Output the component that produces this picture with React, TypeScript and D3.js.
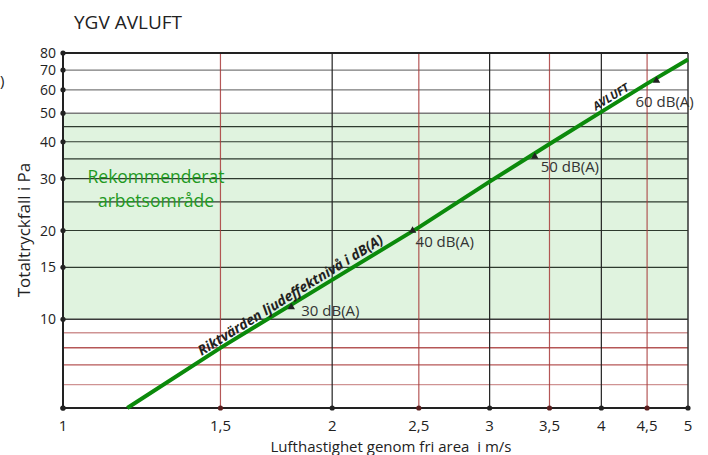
import React, { useRef, useEffect } from 'react';
import * as d3 from 'd3';

// Lufthastighet (m/s) vs Totaltryckfall (Pa)
const velocity = [1.18, 1.5, 2, 2.5, 3, 3.5, 4, 4.5, 5];
const pressure = [5, 8, 13.6, 20.5, 29.3, 39.3, 50.5, 63, 76];

// sound level markers along the line
const dbLabels = ['30 dB(A)', '40 dB(A)', '50 dB(A)', '60 dB(A)'];
const dbVelocity = [1.8, 2.46, 3.37, 4.61];
const dbPressure = [11, 20, 35.6, 64.5];

const xTicks = [1, 1.5, 2, 2.5, 3, 3.5, 4, 4.5, 5];
const xTickLabels = ['1', '1,5', '2', '2,5', '3', '3,5', '4', '4,5', '5'];
const redVerticals = [1.5, 2.5, 3.5, 4.5];
const yLabelled = [80, 70, 60, 50, 40, 30, 20, 15, 10];
const yGreenLines = [45, 40, 35, 30, 25, 20, 15];
const yGreyLines = [70, 60, 50];
const yRedLines = [9, 8, 7, 6];
const zoneRange = [10, 50];

const FONT = '"Open Sans", "Noto Sans", sans-serif';

function App() {
  const ref = useRef<SVGSVGElement>(null);

  useEffect(() => {
    if (!ref.current) return;
    const svg = d3.select(ref.current);
    svg.selectAll('*').remove();

    const left = 63, right = 688, top = 53, bottom = 408;
    const x = d3.scaleLog().domain([1, 5]).range([left, right]);
    const y = d3.scaleLog().domain([5, 80]).range([bottom, top]);

    // recommended zone
    svg.append('rect')
      .attr('x', left).attr('width', right - left)
      .attr('y', y(zoneRange[1])).attr('height', y(zoneRange[0]) - y(zoneRange[1]))
      .attr('fill', '#e0f3df');

    // horizontal grid
    svg.append('g').selectAll('line').data(yRedLines).join('line')
      .attr('x1', left).attr('x2', right)
      .attr('y1', d => y(d)).attr('y2', d => y(d))
      .attr('stroke', '#a83a3a')
      .attr('stroke-opacity', d => (d === 9 || d === 6) ? 0.55 : 0.85)
      .attr('stroke-width', 1.4);
    svg.append('g').selectAll('line').data(yGreyLines).join('line')
      .attr('x1', left).attr('x2', right)
      .attr('y1', d => y(d)).attr('y2', d => y(d))
      .attr('stroke', '#7a7a7a').attr('stroke-width', 1.4);
    svg.append('g').selectAll('line').data(yGreenLines).join('line')
      .attr('x1', left).attr('x2', right)
      .attr('y1', d => y(d)).attr('y2', d => y(d))
      .attr('stroke', '#2e3a2e').attr('stroke-width', 1.2);
    svg.append('line')
      .attr('x1', left).attr('x2', right)
      .attr('y1', y(10)).attr('y2', y(10))
      .attr('stroke', '#3a3a3a').attr('stroke-width', 1.3);

    // vertical grid
    svg.append('g').selectAll('line').data(xTicks.filter(d => d > 1 && d < 5)).join('line')
      .attr('x1', d => x(d)).attr('x2', d => x(d))
      .attr('y1', top).attr('y2', bottom)
      .attr('stroke', d => redVerticals.includes(d) ? '#a83a3a' : '#222')
      .attr('stroke-opacity', d => redVerticals.includes(d) ? 0.85 : 1)
      .attr('stroke-width', 1.2);

    // frame
    svg.append('line').attr('x1', left).attr('x2', right).attr('y1', top).attr('y2', top)
      .attr('stroke', '#222').attr('stroke-width', 2);
    svg.append('line').attr('x1', right).attr('x2', right).attr('y1', top).attr('y2', bottom)
      .attr('stroke', '#333').attr('stroke-width', 1.5);
    svg.append('line').attr('x1', left).attr('x2', right).attr('y1', bottom).attr('y2', bottom)
      .attr('stroke', '#222').attr('stroke-width', 2);
    svg.append('line').attr('x1', left).attr('x2', left).attr('y1', top).attr('y2', bottom)
      .attr('stroke', '#222').attr('stroke-width', 2);

    // tick dots and labels
    svg.append('g').selectAll('circle').data(yLabelled.concat([5])).join('circle')
      .attr('cx', left).attr('cy', d => y(d)).attr('r', 2.6).attr('fill', '#222');
    svg.append('g').selectAll('text').data(yLabelled).join('text')
      .attr('x', left - 7).attr('y', d => y(d)).attr('dy', '0.36em')
      .attr('text-anchor', 'end').attr('font-family', FONT).attr('font-size', 14)
      .attr('fill', '#222').text(d => String(d));
    svg.append('g').selectAll('circle').data(xTicks).join('circle')
      .attr('cx', d => x(d)).attr('cy', bottom).attr('r', 2.6)
      .attr('fill', d => redVerticals.includes(d) ? '#5a1f1f' : '#222');
    svg.append('g').selectAll('text').data(xTicks).join('text')
      .attr('x', d => x(d)).attr('y', 431)
      .attr('text-anchor', 'middle').attr('font-family', FONT).attr('font-size', 15)
      .attr('fill', '#222').text((d, i) => xTickLabels[i]);

    // main line
    const pts = velocity.map((v, i) => [v, pressure[i]] as [number, number]);
    svg.append('path')
      .datum(pts)
      .attr('d', d3.line<[number, number]>().x(d => x(d[0])).y(d => y(d[1])))
      .attr('fill', 'none').attr('stroke', '#0b8a0b').attr('stroke-width', 4);

    const x0 = x(velocity[0]), y0 = y(pressure[0]);
    const x1 = x(velocity[velocity.length - 1]), y1 = y(pressure[pressure.length - 1]);
    const angle = Math.atan2(y1 - y0, x1 - x0) * 180 / Math.PI;
    const onLine = (v: number) => {
      const px = x(v);
      return [px, y0 + (y1 - y0) * (px - x0) / (x1 - x0)];
    };
    const alongText = (v: number, txt: string, size: number) => {
      const [px, py] = onLine(v);
      svg.append('text')
        .attr('transform', `translate(${px},${py}) rotate(${angle})`)
        .attr('y', -5)
        .attr('text-anchor', 'middle').attr('font-family', FONT)
        .attr('font-size', size).attr('font-weight', 'bold').attr('font-style', 'italic')
        .attr('fill', '#222').text(txt);
    };
    alongText(1.82, 'Riktvärden ljudeffektnivå i dB(A)', 14);
    alongText(4.15, 'AVLUFT', 11.5);

    // dB markers
    const dx = [10, 3, 6, -21];
    const dy = [9, 16, 15, 26];
    const markers = svg.append('g').selectAll('g').data(dbLabels).join('g')
      .attr('transform', (d, i) => `translate(${x(dbVelocity[i])},${y(dbPressure[i])})`);
    markers.append('path')
      .attr('d', d3.symbol(d3.symbolTriangle, 24)())
      .attr('fill', '#222');
    markers.append('text')
      .attr('x', (d, i) => dx[i]).attr('y', (d, i) => dy[i])
      .attr('font-family', FONT).attr('font-size', 15).attr('fill', '#333')
      .text(d => d);

    // zone label
    svg.append('text')
      .attr('x', 156).attr('y', 183).attr('text-anchor', 'middle')
      .attr('font-family', FONT).attr('font-size', 17.5).attr('fill', '#1f9a1f')
      .text('Rekommenderat');
    svg.append('text')
      .attr('x', 156).attr('y', 207).attr('text-anchor', 'middle')
      .attr('font-family', FONT).attr('font-size', 17.5).attr('fill', '#1f9a1f')
      .text('arbetsområde');

    // titles
    svg.append('text')
      .attr('x', 74).attr('y', 29)
      .attr('font-family', FONT).attr('font-size', 19).attr('fill', '#222')
      .text('YGV AVLUFT');
    svg.append('text')
      .attr('x', 0).attr('y', 86)
      .attr('font-family', FONT).attr('font-size', 15).attr('fill', '#222')
      .text(')');
    svg.append('text')
      .attr('transform', `translate(30,230) rotate(-90)`)
      .attr('text-anchor', 'middle')
      .attr('font-family', FONT).attr('font-size', 17).attr('fill', '#222')
      .text('Totaltryckfall i Pa');
    svg.append('text')
      .attr('x', 391).attr('y', 452).attr('text-anchor', 'middle')
      .attr('font-family', FONT).attr('font-size', 15).attr('fill', '#222')
      .style('white-space', 'pre')
      .text('Lufthastighet genom fri area  i m/s');
  }, []);

  return (
    <svg
      ref={ref}
      width={708}
      height={455}
      style={{ position: 'absolute', left: 0, top: 0, background: '#fff' }}
    />
  );
}

export default App;
